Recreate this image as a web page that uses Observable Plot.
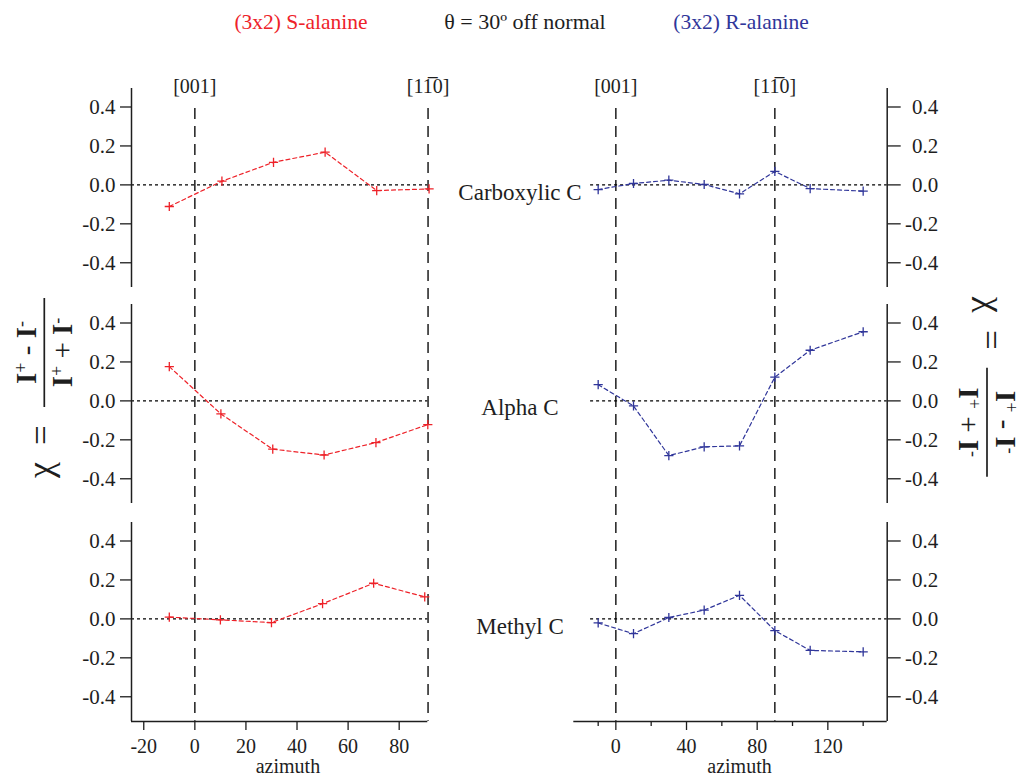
<!DOCTYPE html>
<html><head><meta charset="utf-8">
<script src="https://cdn.jsdelivr.net/npm/d3@7"></script>
<script src="https://cdn.jsdelivr.net/npm/@observablehq/plot@0.6"></script>
<style>
html,body{margin:0;padding:0;background:#fff;}
#fig{position:relative;width:1021px;height:780px;overflow:hidden;font-family:"Liberation Serif","Times New Roman",serif;color:#222;}
</style></head><body><div id="fig"></div>
<script>
// ---------- data ----------
const titleLeft = "(3x2) S-alanine";
const titleMid = "θ = 30º off normal";
const titleRight = "(3x2) R-alanine";
const panelLabels = ["Carboxylic C", "Alpha C", "Methyl C"];
const dirLabels = ["[001]", "[11\u03050]"];
const dirS = [0, 91.3];
const dirR = [0, 90];
const yTicks = [-0.4, -0.2, 0, 0.2, 0.4];
const xTicksS = [-20, 0, 20, 40, 60, 80];
const xTicksR = [0, 40, 80, 120];
const xMinorR = [-10, 20, 60, 100, 140];
const xLabel = "azimuth";

// S-alanine (left column)
const azimuthSCarboxylic = [-10, 10.6, 30.8, 51, 71.2, 91.7];
const azimuthSAlpha = [-10, 10.2, 30.5, 50.6, 70.9, 91.2];
const azimuthSMethyl = [-10, 10, 30, 50, 70, 90];
const chiSCarboxylic = [-0.111, 0.019, 0.116, 0.168, -0.029, -0.021];
const chiSAlpha = [0.176, -0.067, -0.248, -0.278, -0.214, -0.122];
const chiSMethyl = [0.009, -0.005, -0.019, 0.078, 0.183, 0.113];

// R-alanine (right column)
const azimuthR = [-10, 10, 30, 50, 70, 90, 110, 140];
const chiRCarboxylic = [-0.024, 0.007, 0.024, 0.002, -0.046, 0.069, -0.019, -0.032];
const chiRAlpha = [0.083, -0.026, -0.281, -0.236, -0.231, 0.122, 0.260, 0.355];
const chiRMethyl = [-0.021, -0.076, 0.007, 0.045, 0.121, -0.060, -0.162, -0.169];

// ---------- styling / layout ----------
const RED = "#ee2229", BLUE = "#30369a", INK = "#1e1e1e";
const FONT = '"Liberation Serif", "Times New Roman", serif';
const rowTops = [88, 304, 522];
const frameH = 199;
const yDomain = [-0.527, 0.495];
const cfg = {
  S: {color: RED, left: 0, width: 460, ml: 131, mr: 32.7, xDomain: [-24.8, 91.2], dir: dirS, ticks: xTicksS, minor: [], azDx: 8.3},
  R: {color: BLUE, left: 460, width: 561, ml: 113.3, mr: 134.3, xDomain: [-23.8, 153.6], zeroFrom: -14.3, dir: dirR, ticks: xTicksR, minor: xMinorR, azDx: 9}
};
const plotStyle = {fontFamily: FONT, fontSize: "20px", color: INK, background: "transparent", overflow: "visible"};

const plus = {
  draw(ctx, size) {
    const r = Math.sqrt(size / Math.PI);
    ctx.moveTo(-r, 0); ctx.lineTo(r, 0);
    ctx.moveTo(0, -r); ctx.lineTo(0, r);
  }
};

const fig = document.getElementById("fig");
function place(node, left, top) {
  node.style.position = "absolute";
  node.style.left = left + "px";
  node.style.top = top + "px";
  node.style.maxWidth = "none";
  fig.appendChild(node);
}

function panel(side, row, xs, ys) {
  const c = cfg[side];
  const isS = side === "S";
  const bottom = row === 2;
  const mt = 10, mb = bottom ? 70 : 10;
  const marks = [];
  marks.push(isS
    ? Plot.ruleY([0], {stroke: "#000", strokeWidth: 1.1, strokeDasharray: "3,3"})
    : Plot.ruleY([0], {x1: c.zeroFrom, x2: c.xDomain[1], stroke: "#000", strokeWidth: 1.1, strokeDasharray: "3,3"}));
  marks.push(Plot.ruleX([isS ? c.xDomain[0] : c.xDomain[1]], {stroke: INK, strokeWidth: 1.5}));
  marks.push(Plot.axisY(yTicks, {
    anchor: isS ? "left" : "right",
    tickSize: isS ? 11 : 13,
    tickPadding: isS ? 5 : 38,
    textAnchor: "end",
    tickFormat: d => d.toFixed(1),
    fontSize: 21,
    strokeWidth: 1.3,
    label: null
  }));
  if (bottom) {
    marks.push(Plot.ruleY([yDomain[0]], {stroke: INK, strokeWidth: 1.5}));
    marks.push(Plot.axisX(c.ticks, {anchor: "bottom", tickSize: 9, tickPadding: 8, tickFormat: d => String(d), fontSize: 20, strokeWidth: 1.3, label: null}));
    if (c.minor.length) marks.push(Plot.axisX(c.minor, {anchor: "bottom", tickSize: 5, tickFormat: () => "", strokeWidth: 1.3, label: null}));
    marks.push(Plot.text([xLabel], {frameAnchor: "bottom", dx: c.azDx, dy: 51, fontSize: 20}));
  }
  marks.push(Plot.line(ys, {x: xs, y: ys, stroke: c.color, strokeWidth: 1.2, strokeDasharray: "4,3"}));
  marks.push(Plot.dot(ys, {x: xs, y: ys, symbol: plus, r: 4.6, stroke: c.color, fill: "none", strokeWidth: 1.3}));
  const svg = Plot.plot({
    width: c.width, height: mt + frameH + mb,
    marginTop: mt, marginBottom: mb, marginLeft: c.ml, marginRight: c.mr,
    x: {domain: c.xDomain, axis: null},
    y: {domain: yDomain, axis: null},
    style: plotStyle,
    marks
  });
  place(svg, c.left, rowTops[row] - mt);
}

function dirOverlay(side) {
  const c = cfg[side];
  const svg = Plot.plot({
    width: c.width, height: 780,
    marginTop: 0, marginBottom: 0, marginLeft: c.ml, marginRight: c.mr,
    x: {domain: c.xDomain, axis: null},
    y: {type: "identity", axis: null},
    style: plotStyle,
    marks: [
      Plot.ruleX(c.dir, {y1: 108, y2: 720.7, stroke: INK, strokeWidth: 1.5, strokeDasharray: "11,7"}),
      Plot.text(dirLabels, {x: c.dir, y: 86, fontSize: 20, fill: INK})
    ]
  });
  place(svg, c.left, 0);
}

dirOverlay("S");
dirOverlay("R");
panel("S", 0, azimuthSCarboxylic, chiSCarboxylic);
panel("S", 1, azimuthSAlpha, chiSAlpha);
panel("S", 2, azimuthSMethyl, chiSMethyl);
panel("R", 0, azimuthR, chiRCarboxylic);
panel("R", 1, azimuthR, chiRAlpha);
panel("R", 2, azimuthR, chiRMethyl);

// ---------- annotations: titles, panel names, axis formulas ----------
const ann = d3.create("svg").attr("width", 1021).attr("height", 780)
  .style("font-family", FONT).style("overflow", "visible");
ann.append("text").attr("x", 301).attr("y", 29).attr("text-anchor", "middle").attr("font-size", 21.5).attr("fill", RED).text(titleLeft);
ann.append("text").attr("x", 525).attr("y", 29).attr("text-anchor", "middle").attr("font-size", 22).attr("fill", INK).text(titleMid);
ann.append("text").attr("x", 741).attr("y", 29).attr("text-anchor", "middle").attr("font-size", 21.5).attr("fill", BLUE).text(titleRight);
const labelBase = [199.5, 415, 633.5];
panelLabels.forEach((t, i) => {
  ann.append("text").attr("x", 520).attr("y", labelBase[i]).attr("text-anchor", "middle").attr("font-size", 23).attr("fill", INK).text(t);
});

function formula(cx, cy, angle) {
  const g = ann.append("g").attr("transform", `translate(${cx},${cy}) rotate(${angle})`).attr("fill", INK);
  g.append("line").attr("x1", -54.5).attr("x2", 54.5).attr("y1", 0).attr("y2", 0).attr("stroke", INK).attr("stroke-width", 1.7);
  g.append("text").attr("x", -117.5).attr("y", 7.5).attr("text-anchor", "middle").attr("font-size", 36).text("χ");
  g.append("text").attr("x", -82.5).attr("y", 8.5).attr("text-anchor", "middle").attr("font-size", 35).text("=");
  const parts = (mid) => [["I", "b"], ["+", "s"], [mid, "n"], ["I", "b"], ["-", "s"]];
  const frac = (y, mid) => {
    const t = g.append("text").attr("x", 0).attr("y", y).attr("text-anchor", "middle").attr("font-size", 29);
    let up = false;
    parts(mid).forEach(([s, k]) => {
      const sp = t.append("tspan").text(s);
      if (k === "b") sp.attr("font-weight", "bold");
      if (k === "s") { sp.attr("font-size", 18).attr("dy", -9); up = true; }
      else if (up) { sp.attr("dy", 9); up = false; }
    });
  };
  frac(-8.5, " - ");
  frac(28, " + ");
}
formula(44.3, 352.5, -90);
formula(987, 422.3, 90);
fig.appendChild(ann.node());
ann.node().style.position = "absolute";
ann.node().style.left = "0px";
ann.node().style.top = "0px";
ann.node().style.pointerEvents = "none";
</script></body></html>
